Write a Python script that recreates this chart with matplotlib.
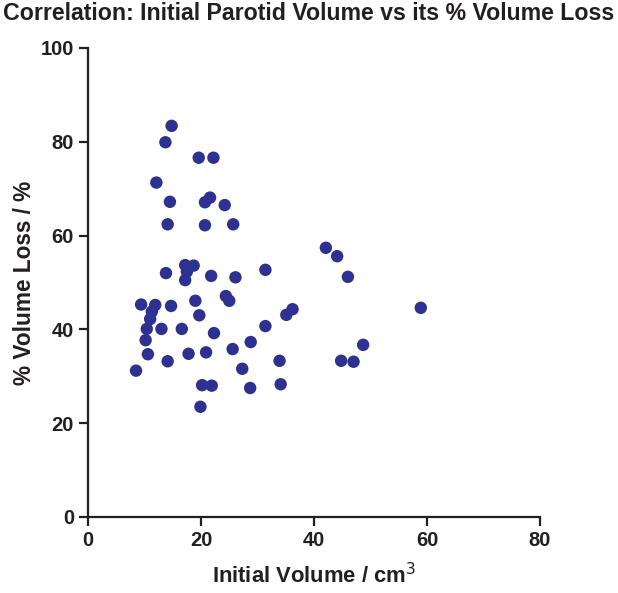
import matplotlib.pyplot as plt

plt.rcParams['font.family'] = ['Liberation Sans', 'DejaVu Sans']

initial_volume = [14.8, 13.7, 19.6, 22.2, 12.1, 14.5, 20.7, 21.6, 24.2, 14.1, 20.7, 25.7,
                  13.8, 17.2, 18.7, 17.5, 17.2, 21.8, 26.1, 31.4, 42.1, 44.1, 46.0, 58.9,
                  36.2, 35.1, 31.4, 48.7, 33.9, 44.8, 47.0, 34.1, 9.4, 11.9, 11.3, 11.0,
                  10.4, 10.2, 10.6, 8.5, 14.7, 19.0, 19.7, 24.4, 25.0, 13.0, 16.6, 14.1,
                  17.8, 20.9, 22.3, 25.6, 28.8, 27.3, 20.2, 21.9, 28.7, 19.9]
volume_loss = [83.4, 79.9, 76.6, 76.6, 71.3, 67.2, 67.1, 68.1, 66.5, 62.4, 62.2, 62.4,
               52.0, 53.7, 53.6, 52.3, 50.5, 51.4, 51.1, 52.7, 57.4, 55.6, 51.2, 44.6,
               44.3, 43.1, 40.7, 36.7, 33.3, 33.3, 33.1, 28.3, 45.3, 45.2, 43.8, 42.2,
               40.1, 37.7, 34.7, 31.2, 45.0, 46.1, 43.0, 47.1, 46.1, 40.1, 40.1, 33.2,
               34.8, 35.1, 39.2, 35.8, 37.3, 31.6, 28.1, 28.0, 27.5, 23.5]

x_ticks = [0, 20, 40, 60, 80]
y_ticks = [0, 20, 40, 60, 80, 100]

text_color = '#231F20'

fig = plt.figure(figsize=(6.18, 5.93), dpi=100)
ax = fig.add_axes([0.1424, 0.1282, 0.7314, 0.7909])

ax.scatter(initial_volume, volume_loss, s=80, color='#2E3192', edgecolors='none', zorder=3)

ax.set_xlim(0, 80)
ax.set_ylim(0, 100)
ax.set_xticks(x_ticks)
ax.set_yticks(y_ticks)

for side in ['top', 'right']:
    ax.spines[side].set_visible(False)
for side in ['left', 'bottom']:
    ax.spines[side].set_linewidth(1.6)
    ax.spines[side].set_color(text_color)

ax.tick_params(direction='out', length=6.5, width=1.6, color=text_color,
               labelsize=14.5, labelcolor=text_color, pad=3.5)
for lbl in ax.get_xticklabels() + ax.get_yticklabels():
    lbl.set_fontweight('bold')

ax.set_xlabel('Initial Volume / cm$^3$', fontsize=15.8, fontweight='bold', color=text_color, va='center')
ax.xaxis.set_label_coords(0.5, -0.126)
ax.set_ylabel('% Volume Loss / %', fontsize=16.3, fontweight='bold', color=text_color, va='center')
ax.yaxis.set_label_coords(-0.14, 0.5)
fig.text(0.5, 1 - 13 / 593, 'Correlation: Initial Parotid Volume vs its % Volume Loss',
         fontsize=16.7, fontweight='bold', color=text_color, ha='center', va='center')

fig.savefig('out.png', dpi=100)
